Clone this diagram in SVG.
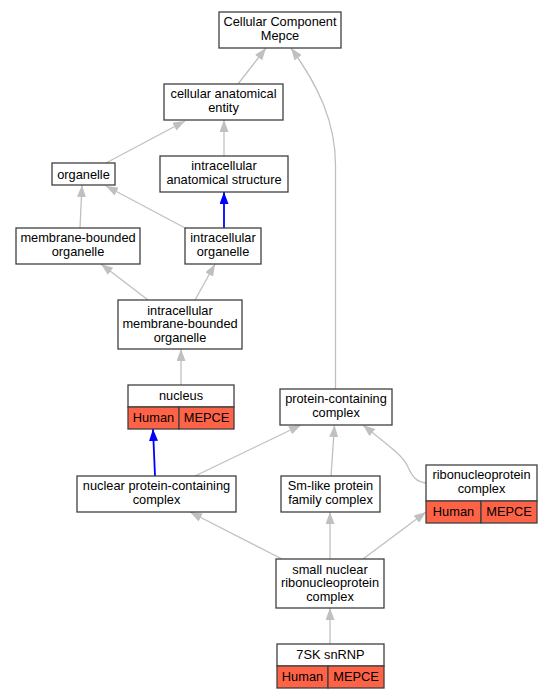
<svg xmlns="http://www.w3.org/2000/svg" width="552" height="699" viewBox="0 0 552 699">
<style>
.box{fill:#fff;stroke:#404040;stroke-width:1.3}
.org{fill:#ff6347;stroke:#404040;stroke-width:1.3}
text{font-family:"Liberation Sans",Arial,sans-serif;font-size:12.8px;fill:#000;text-anchor:middle}
.e{fill:none;stroke:#c0c0c0;stroke-width:1.3;marker-end:url(#ag)}
.b{fill:none;stroke:#0000ff;stroke-width:1.8;marker-end:url(#ab)}
</style>
<defs>
<marker id="ag" markerUnits="userSpaceOnUse" markerWidth="12" markerHeight="9" viewBox="0 0 12 9" refX="12" refY="4.5" orient="auto"><path d="M0,0 L12,4.5 L0,9 z" fill="#c0c0c0"/></marker>
<marker id="ab" markerUnits="userSpaceOnUse" markerWidth="12" markerHeight="9" viewBox="0 0 12 9" refX="12" refY="4.5" orient="auto"><path d="M0,0 L12,4.5 L0,9 z" fill="#0000ff"/></marker>
</defs>
<rect width="552" height="699" fill="#fff"/>
<g id="edges">
<path class="e" d="M238,84 L266,48"/>
<path class="e" d="M335.5,389 L335.5,165 C335.5,122 318,85 291,48"/>
<path class="e" d="M106,163 L185,121"/>
<path class="e" d="M224,156 L224,120"/>
<path class="e" d="M80,228 L82,185"/>
<path class="e" d="M187,229 L106,186"/>
<path class="b" d="M224,228 L224,192"/>
<path class="e" d="M148,300 L101,264"/>
<path class="e" d="M195,300 L215,264"/>
<path class="e" d="M181,385 L181,349"/>
<path class="b" d="M155,476 L153,429"/>
<path class="e" d="M195,476 L301,425"/>
<path class="e" d="M331,476 L334.5,425"/>
<path class="e" d="M426,483 C416,482 412,476 408,467 C403,455 385,443 363,425"/>
<path class="e" d="M282,559 L190,512"/>
<path class="e" d="M330,559 L330,512"/>
<path class="e" d="M363,559 L426,512"/>
<path class="e" d="M330,644 L330,608"/>
</g>
<g id="n_cc"><rect class="box" x="219" y="12" width="122" height="36"/><text x="280" y="26">Cellular Component</text><text x="280" y="39.5">Mepce</text></g>
<g id="n_cae"><rect class="box" x="164" y="84" width="119" height="36"/><text x="223.5" y="98">cellular anatomical</text><text x="223.5" y="111.5">entity</text></g>
<g id="n_organelle"><rect class="box" x="52" y="163" width="63" height="22"/><text x="83.5" y="178.5">organelle</text></g>
<g id="n_ias"><rect class="box" x="160" y="156" width="128" height="36"/><text x="224" y="170">intracellular</text><text x="224" y="183.5">anatomical structure</text></g>
<g id="n_mbo"><rect class="box" x="16" y="228" width="124" height="36"/><text x="78" y="242">membrane-bounded</text><text x="78" y="255.5">organelle</text></g>
<g id="n_io"><rect class="box" x="185" y="228" width="76" height="36"/><text x="223" y="242">intracellular</text><text x="223" y="255.5">organelle</text></g>
<g id="n_imbo"><rect class="box" x="118" y="300" width="124" height="49"/><text x="180" y="314.5">intracellular</text><text x="180" y="328">membrane-bounded</text><text x="180" y="341.5">organelle</text></g>
<g id="n_nucleus"><rect class="box" x="128" y="385" width="106" height="22"/><text x="181" y="399.5">nucleus</text><rect class="org" x="128" y="407" width="51" height="22"/><rect class="org" x="179" y="407" width="55" height="22"/><text x="153.5" y="421.5">Human</text><text x="206.5" y="421.5">MEPCE</text></g>
<g id="n_pcc"><rect class="box" x="280" y="389" width="112" height="36"/><text x="336" y="403">protein-containing</text><text x="336" y="416.5">complex</text></g>
<g id="n_npcc"><rect class="box" x="77" y="476" width="159" height="36"/><text x="156.5" y="490">nuclear protein-containing</text><text x="156.5" y="503.5">complex</text></g>
<g id="n_sm"><rect class="box" x="281" y="476" width="99" height="36"/><text x="330.5" y="490">Sm-like protein</text><text x="330.5" y="503.5">family complex</text></g>
<g id="n_rnp"><rect class="box" x="426" y="465" width="111" height="36"/><text x="481.5" y="479">ribonucleoprotein</text><text x="481.5" y="492.5">complex</text><rect class="org" x="426" y="501" width="55" height="22"/><rect class="org" x="481" y="501" width="56" height="22"/><text x="453.5" y="515.5">Human</text><text x="509" y="515.5">MEPCE</text></g>
<g id="n_snrnp"><rect class="box" x="276" y="559" width="108" height="49"/><text x="330" y="573.5">small nuclear</text><text x="330" y="587">ribonucleoprotein</text><text x="330" y="600.5">complex</text></g>
<g id="n_7sk"><rect class="box" x="277" y="644" width="107" height="22"/><text x="330.5" y="658.5">7SK snRNP</text><rect class="org" x="277" y="666" width="51" height="22"/><rect class="org" x="328" y="666" width="56" height="22"/><text x="302.5" y="680.5">Human</text><text x="356" y="680.5">MEPCE</text></g>
</svg>
